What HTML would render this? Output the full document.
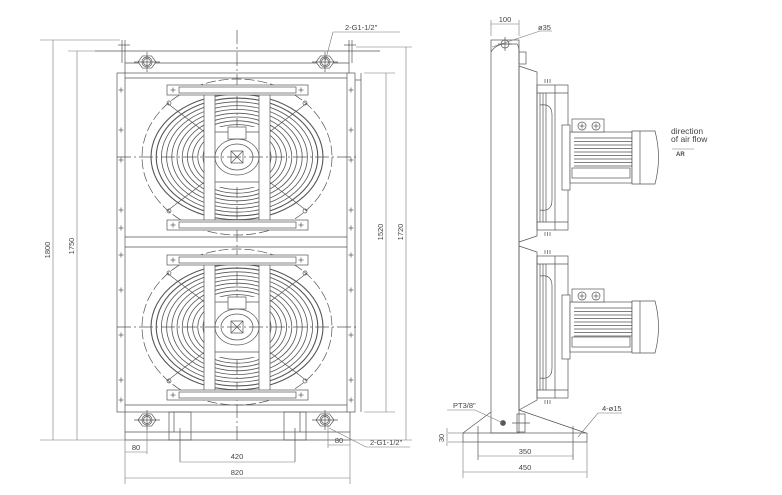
<!DOCTYPE html>
<html><head><meta charset="utf-8"><style>
html,body{margin:0;padding:0;background:#fff;}
svg{display:block;}
text{font-family:"Liberation Sans",sans-serif;fill:#444;}
</style></head><body>
<svg id="s" width="782" height="495" viewBox="0 0 782 495" xmlns="http://www.w3.org/2000/svg" fill="none" stroke="#555" stroke-width="0.7">
<g>
<line x1="95" y1="51" x2="380" y2="51"/>
<line x1="125" y1="40" x2="125" y2="73"/><line x1="122" y1="40" x2="122" y2="63"/>
<line x1="118" y1="45" x2="130" y2="45"/>
<line x1="349" y1="40" x2="349" y2="73"/><line x1="352" y1="40" x2="352" y2="63"/>
<line x1="344" y1="45" x2="356" y2="45"/>
<line x1="125" y1="63" x2="349" y2="63"/>
<rect x="117" y="73" width="238" height="339"/>
<line x1="125" y1="73" x2="125" y2="412"/><line x1="347" y1="73" x2="347" y2="412"/>
<line x1="125" y1="78" x2="347" y2="78"/>
<line x1="125" y1="237" x2="347" y2="237"/><line x1="125" y1="247" x2="347" y2="247"/>
<line x1="125" y1="405" x2="347" y2="405"/>
<line x1="355" y1="80" x2="361" y2="80"/><line x1="361" y1="73" x2="361" y2="412"/>
<line x1="125" y1="412" x2="125" y2="440"/><line x1="350" y1="412" x2="350" y2="440"/>
<line x1="125" y1="440" x2="350" y2="440"/>
<line x1="125" y1="432" x2="350" y2="432"/>
<rect x="169" y="412" width="22" height="28"/><line x1="174" y1="412" x2="174" y2="432"/>
<rect x="284" y="412" width="22" height="28"/><line x1="300" y1="412" x2="300" y2="432"/>
<line x1="180" y1="428" x2="180" y2="462"/><line x1="295" y1="428" x2="295" y2="462"/>
<line x1="237" y1="30" x2="237" y2="440" stroke-dasharray="14 3 2 3"/>
</g>
<g id="fans"></g>
<g id="nuts"></g>
<g stroke="#777" stroke-width="0.6">
<line x1="40" y1="40" x2="120" y2="40"/><line x1="40" y1="440" x2="125" y2="440"/>
<line x1="53" y1="40" x2="53" y2="440"/>
<line x1="68" y1="51" x2="95" y2="51"/><line x1="77" y1="51" x2="77" y2="440"/>
<line x1="364" y1="73" x2="395" y2="73"/><line x1="364" y1="412" x2="395" y2="412"/>
<line x1="386" y1="73" x2="386" y2="412"/>
<line x1="356" y1="47" x2="412" y2="47"/><line x1="350" y1="440" x2="412" y2="440"/>
<line x1="406" y1="47" x2="406" y2="440"/>
<line x1="125" y1="440" x2="125" y2="484"/><line x1="350" y1="440" x2="350" y2="484"/>
<line x1="125" y1="478" x2="350" y2="478"/>
<line x1="180" y1="462" x2="295" y2="462"/>
<line x1="147" y1="425" x2="147" y2="454"/><line x1="125" y1="452" x2="147" y2="452"/>
<line x1="328" y1="425" x2="328" y2="448"/><line x1="328" y1="445" x2="350" y2="445"/>
<polyline points="329,428 366,447 410,447"/>
<polyline points="325,62 333,32 400,32"/>
</g>
<g font-size="7.5" stroke="none">
<text x="0" y="0" transform="translate(50,250) rotate(-90)" text-anchor="middle">1800</text>
<text x="0" y="0" transform="translate(74,246) rotate(-90)" text-anchor="middle">1750</text>
<text x="0" y="0" transform="translate(383,232) rotate(-90)" text-anchor="middle">1520</text>
<text x="0" y="0" transform="translate(403,232) rotate(-90)" text-anchor="middle">1720</text>
<text x="237" y="475" text-anchor="middle">820</text>
<text x="237" y="459" text-anchor="middle">420</text>
<text x="136" y="450" text-anchor="middle">80</text>
<text x="339" y="443" text-anchor="middle">80</text>
<text x="370" y="445">2-G1-1/2"</text>
<text x="345" y="30">2-G1-1/2"</text>
</g>

<g>
<rect x="491" y="40" width="28" height="393"/>
<path d="M491,52 Q496,44 505,44 L517,44 Q519,46 519,52"/>
<circle cx="505" cy="44" r="4"/><line x1="498" y1="44" x2="512" y2="44"/><line x1="505" y1="37" x2="505" y2="51"/>
<rect x="519" y="52" width="7" height="12"/>
<path d="M519,66 L537,72 L537,236 L519,242"/>
<path d="M519,246 L537,252 L537,400 L519,410"/>
<line x1="519" y1="66" x2="519" y2="410"/>
<g id="side"></g>
<rect x="463" y="433" width="124" height="9"/>
<line x1="463" y1="433" x2="491" y2="412"/>
<line x1="519" y1="410" x2="586" y2="433"/>
<line x1="478" y1="426" x2="478" y2="460"/><line x1="573" y1="426" x2="573" y2="460"/>
<circle cx="503" cy="423" r="2.5" fill="#555"/><line x1="512" y1="423" x2="530" y2="423"/>
<rect x="517" y="414" width="8" height="18"/>
</g>
<g stroke="#777" stroke-width="0.6">
<line x1="491" y1="36" x2="491" y2="20"/><line x1="519" y1="36" x2="519" y2="20"/>
<line x1="491" y1="24" x2="519" y2="24"/>
<polyline points="492,47 540,31 552,31"/>
<line x1="478" y1="456" x2="573" y2="456"/>
<line x1="463" y1="442" x2="463" y2="478"/><line x1="587" y1="442" x2="587" y2="478"/>
<line x1="463" y1="472" x2="587" y2="472"/>
<line x1="448" y1="433" x2="463" y2="433"/><line x1="448" y1="442" x2="463" y2="442"/>
<line x1="447" y1="428" x2="447" y2="446"/>
<polyline points="447,410 475,410 503,423"/>
<polyline points="578,437 598,413 622,413"/>
<line x1="672" y1="149" x2="694" y2="149"/>
</g>
<g font-size="7.5" stroke="none">
<text x="505" y="22" text-anchor="middle">100</text>
<text x="538" y="30">ø35</text>
<text x="525" y="454" text-anchor="middle">350</text>
<text x="525" y="470" text-anchor="middle">450</text>
<text x="0" y="0" transform="translate(444,438) rotate(-90)" text-anchor="middle">30</text>
<text x="453" y="408">PT3/8"</text>
<text x="602" y="411">4-ø15</text>
<text x="671" y="134" font-size="8.5">direction</text>
<text x="671" y="142" font-size="8.5">of air flow</text>
<text x="676" y="156" font-size="6" font-weight="bold">AR</text>
</g>
</svg>
<script>
var NS="http://www.w3.org/2000/svg";
function el(p,t,a){var e=document.createElementNS(NS,t);for(var k in a)e.setAttribute(k,a[k]);p.appendChild(e);return e;}
var F=document.getElementById("fans");
function plus(g,x,y){el(g,"line",{x1:x-2.5,y1:y,x2:x+2.5,y2:y});el(g,"line",{x1:x,y1:y-2.5,x2:x,y2:y+2.5});}
[157,327].forEach(function(cy){
 var cx=237,g=el(F,"g",{});
 el(g,"ellipse",{cx:cx,cy:cy,rx:95,ry:78,"stroke-dasharray":"10 3"});
 for(var r=86;r>=30;r-=5.2){el(g,"ellipse",{cx:cx,cy:cy,rx:r,ry:r*0.73,"stroke-width":r>80?1.1:0.8});}
 el(g,"line",{x1:cx-70,y1:cy-54,x2:cx+70,y2:cy+54});
 el(g,"line",{x1:cx+70,y1:cy-54,x2:cx-70,y2:cy+54});
 el(g,"rect",{x:cx-33,y:cy-30,width:66,height:60,fill:"#fff",stroke:"none"});
 el(g,"rect",{x:cx-33,y:cy-66,width:11,height:131,fill:"#fff"});
 el(g,"rect",{x:cx+22,y:cy-66,width:11,height:131,fill:"#fff"});
 el(g,"line",{x1:cx-22,y1:cy-25,x2:cx+22,y2:cy-25});
 el(g,"line",{x1:cx-22,y1:cy+25,x2:cx+22,y2:cy+25});
 el(g,"rect",{x:cx-9,y:cy-30,width:18,height:12,fill:"#fff"});
 el(g,"ellipse",{cx:cx,cy:cy,rx:22,ry:18,fill:"#fff"});
 el(g,"ellipse",{cx:cx,cy:cy,rx:16,ry:13});
 el(g,"rect",{x:cx-6,y:cy-6,width:12,height:12});
 el(g,"line",{x1:cx-6,y1:cy-6,x2:cx+6,y2:cy+6});el(g,"line",{x1:cx+6,y1:cy-6,x2:cx-6,y2:cy+6});
 [[-72,-62],[63,73]].forEach(function(b){
  el(g,"rect",{x:cx-70,y:cy+b[0],width:141,height:10,fill:"#fff"});
  el(g,"rect",{x:cx-58,y:cy+b[0]+2,width:117,height:6});
  plus(g,cx-64,cy+b[0]+5);plus(g,cx+64,cy+b[0]+5);
 });
 [[-68,-54],[68,-54],[-68,54],[68,54]].forEach(function(p){el(g,"circle",{cx:cx+p[0],cy:cy+p[1],r:2});});
 el(g,"line",{x1:cx-120,y1:cy,x2:cx+120,y2:cy,"stroke-dasharray":"14 3 2 3"});
});
[90,130,160,210,228,255,290,335,380,400].forEach(function(y){plus(F,121,y);plus(F,351,y);});
var N=document.getElementById("nuts");
[[147,62],[325,62],[147,420],[325,420]].forEach(function(p){
 var x=p[0],y=p[1],s="";for(var i=0;i<6;i++){var a=Math.PI/3*i;s+=(x+9*Math.cos(a))+","+(y+7*Math.sin(a))+" ";}
 el(N,"polygon",{points:s,fill:"#fff"});el(N,"circle",{cx:x,cy:y,r:5});el(N,"circle",{cx:x,cy:y,r:3.5});
 el(N,"line",{x1:x-13,y1:y,x2:x+13,y2:y});el(N,"line",{x1:x,y1:y-10,x2:x,y2:y+10});
});
var S=document.getElementById("side");
[[85,230,132,183],[256,398,302,352]].forEach(function(f){
 var t=f[0],b=f[1],mt=f[2],mb=f[3],g=el(S,"g",{});
 el(g,"rect",{x:537,y:t,width:31,height:b-t});
 el(g,"line",{x1:555,y1:t,x2:555,y2:b});
 el(g,"line",{x1:537,y1:t+8,x2:568,y2:t+8});el(g,"line",{x1:537,y1:b-8,x2:568,y2:b-8});
 for(var i=0;i<3;i++){el(g,"line",{x1:540+i*3,y1:t+8,x2:540+i*3,y2:b-8});el(g,"line",{x1:545+i*2.5,y1:t-6,x2:545+i*2.5,y2:t-2});el(g,"line",{x1:545+i*2.5,y1:b+2,x2:545+i*2.5,y2:b+6});}
 el(g,"path",{d:"M540,"+(t+20)+" Q552,"+(t+18)+" 552,"+(t+30)+" L552,"+(b-30)+" Q552,"+(b-18)+" 540,"+(b-20)});
 el(g,"rect",{x:562,y:mt-7,width:8,height:mb-mt+14,fill:"#fff"});
 el(g,"rect",{x:570,y:mt,width:62,height:mb-mt,fill:"#fff"});
 for(var y=mt+6;y<mb-14;y+=3.5)el(g,"line",{x1:574,y1:y,x2:632,y2:y});
 el(g,"rect",{x:572,y:mb-15,width:58,height:10});
 el(g,"path",{d:"M632,"+(mt-1)+" L655,"+(mt-1)+" Q662,"+((mt+mb)/2)+" 655,"+(mb+1)+" L632,"+(mb+1)+" Z",fill:"#fff"});
 el(g,"line",{x1:640,y1:mt-1,x2:640,y2:mb+1});
 el(g,"rect",{x:572,y:mt-13,width:32,height:13,fill:"#fff"});
 el(g,"circle",{cx:582,cy:mt-6,r:4});el(g,"circle",{cx:596,cy:mt-6,r:4});
 plus(g,582,mt-6);plus(g,596,mt-6);
});
</script>
</body></html>
